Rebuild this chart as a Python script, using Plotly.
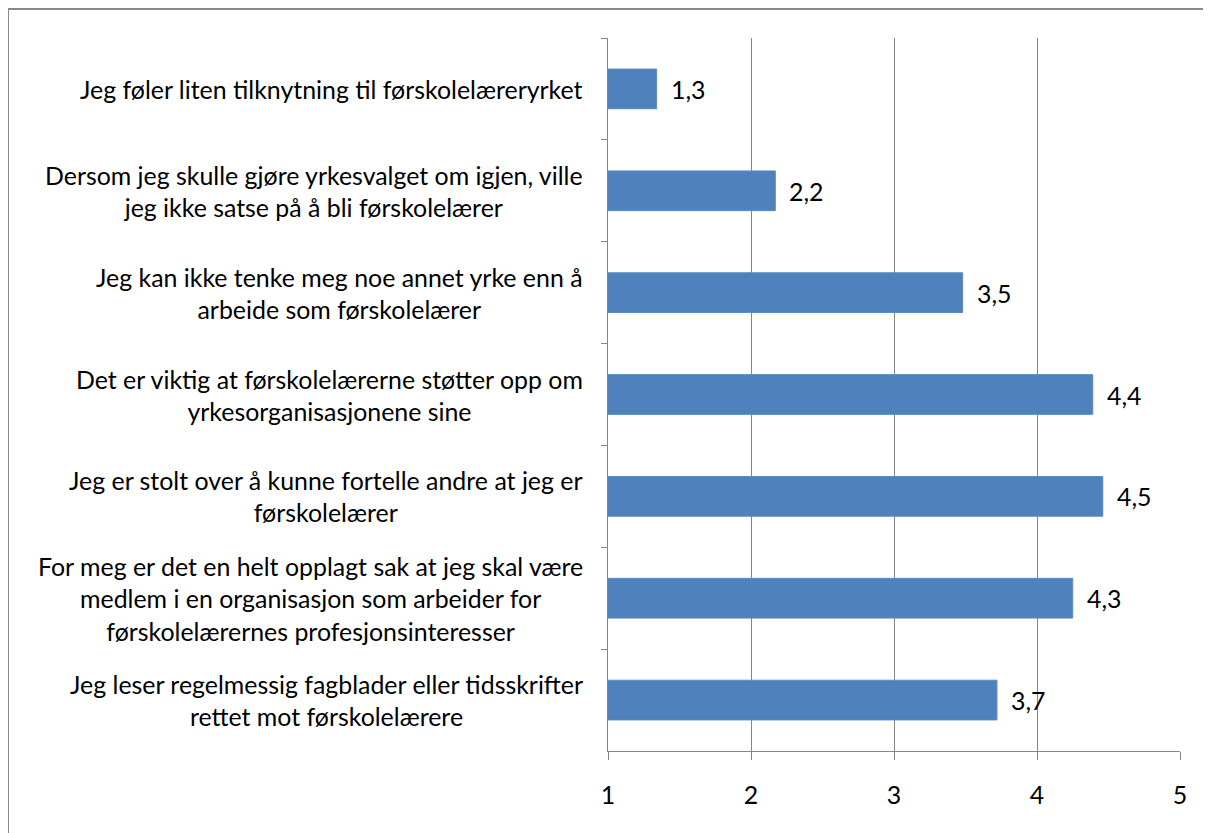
import plotly.graph_objects as go

categories = [
    "Jeg føler liten tilknytning til førskolelæreryrket",
    "Dersom jeg skulle gjøre yrkesvalget om igjen, ville<br>jeg ikke satse på å bli førskolelærer",
    "Jeg kan ikke tenke meg noe annet yrke enn å<br>arbeide som førskolelærer",
    "Det er viktig at førskolelærerne støtter opp om<br>yrkesorganisasjonene sine",
    "Jeg er stolt over å kunne fortelle andre at jeg er<br>førskolelærer",
    "For meg er det en helt opplagt sak at jeg skal være<br>medlem i en organisasjon som arbeider for<br>førskolelærernes profesjonsinteresser",
    "Jeg leser regelmessig fagblader eller tidsskrifter<br>rettet mot førskolelærere",
]
values = [1.34, 2.17, 3.48, 4.39, 4.46, 4.25, 3.72]
value_labels = ["1,3", "2,2", "3,5", "4,4", "4,5", "4,3", "3,7"]
x_ticks = [1, 2, 3, 4, 5]

FONT = "Lato"
FS = 24.9
GRID = "#868686"

W, H = 1203, 825
ML, MR, MT, MB = 600, 31, 30, 82
PW, PH = W - ML - MR, H - MT - MB

fig = go.Figure()
fig.add_trace(go.Bar(
    y=categories, x=values, orientation="h",
    marker=dict(color="#4F81BD", line=dict(color="#5B8BC4", width=1)),
    hoverinfo="skip",
))

annotations = []
for c in categories:
    annotations.append(dict(
        x=0, xref="paper", y=c, yref="y", text=c, showarrow=False,
        xanchor="right", yanchor="middle", align="center", xshift=-23,
        font=dict(family=FONT, size=FS, color="#000000"),
    ))
for c, v, t in zip(categories, values, value_labels):
    annotations.append(dict(
        x=v, xref="x", y=c, yref="y", text=t, showarrow=False,
        xanchor="left", yanchor="middle", xshift=12,
        font=dict(family=FONT, size=FS, color="#000000"),
    ))

fig.update_layout(
    width=W, height=H,
    margin=dict(l=ML, r=MR, t=MT, b=MB),
    paper_bgcolor="white", plot_bgcolor="white",
    showlegend=False, bargap=0.61,
    font=dict(family=FONT, size=FS, color="#000000"),
    annotations=annotations,
    shapes=[dict(type="rect", xref="paper", yref="paper",
                 x0=(0 - ML) / PW, x1=(W + 20 - ML) / PW,
                 y0=-(MB + 20) / PH, y1=(PH + MT - 1) / PH,
                 line=dict(color="#898989", width=2), layer="below")],
)
fig.update_xaxes(
    range=[1, 5], tickvals=x_ticks, ticktext=[str(v) for v in x_ticks],
    showgrid=True, gridcolor=GRID, gridwidth=1,
    showline=True, linecolor=GRID, linewidth=1,
    ticks="outside", ticklen=8, tickcolor=GRID,
    ticklabelstandoff=14, zeroline=False,
    tickfont=dict(family=FONT, size=FS, color="#000000"),
)
fig.update_yaxes(
    autorange="reversed", showticklabels=False,
    showline=True, linecolor=GRID, linewidth=1,
    ticks="outside", ticklen=6, tickcolor=GRID, tickson="boundaries",
    showgrid=False,
)

fig.write_html("out.html")
